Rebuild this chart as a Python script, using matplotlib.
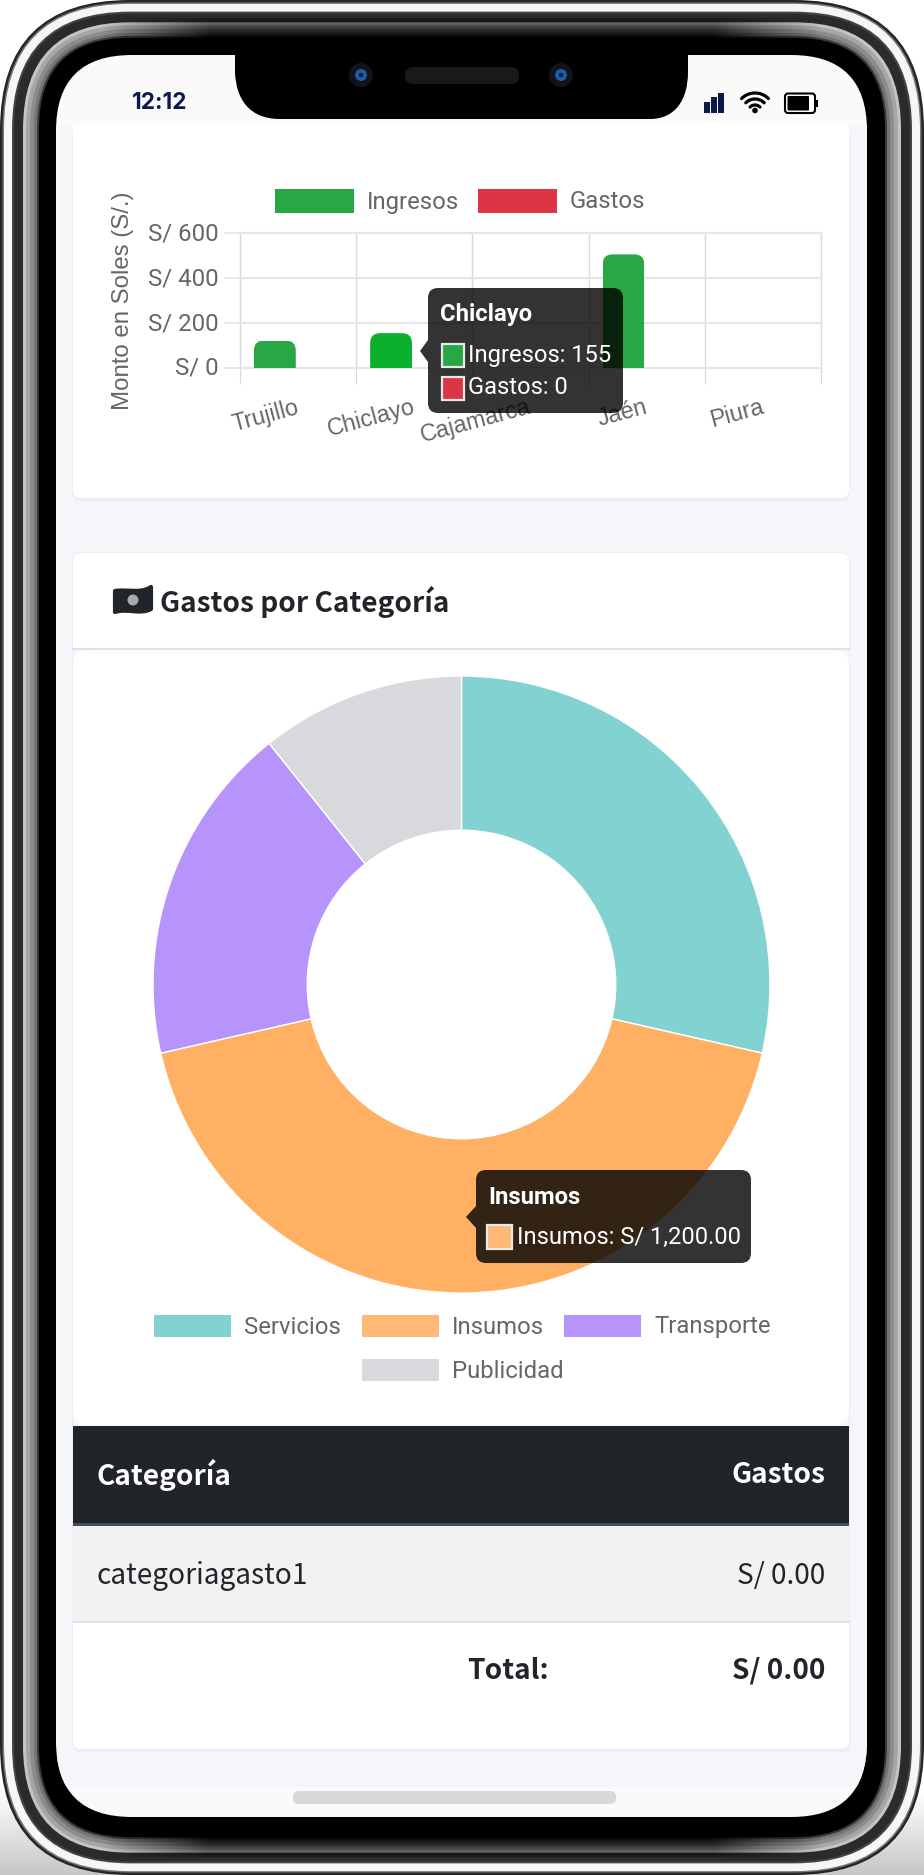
"""Phone mockup with a bar chart, a doughnut chart and a small table."""

import matplotlib
matplotlib.use("Agg")
import matplotlib.pyplot as plt
from matplotlib.patches import Circle, FancyBboxPatch, PathPatch, Polygon, Rectangle
from matplotlib.path import Path
from matplotlib.transforms import ScaledTranslation
import numpy as np

W, H = 924, 1875

cities = ["Trujillo", "Chiclayo", "Cajamarca", "Jaén", "Piura"]
ingresos = [122, 155, 0, 505, 0]
gastos = [0, 0, 0, 0, 0]
ingresos_colors = ["#28a745", "#0ab02e", "#28a745", "#28a745", "#28a745"]
y_ticks = [0, 200, 400, 600]

categories = ["Servicios", "Insumos", "Transporte", "Publicidad"]
amounts = [800, 1200, 500, 300]
slice_colors = ["#82d2d2", "#ffb063", "#b794fb", "#d8d9dc"]
legend_colors = ["#82d2d2", "#ffb876", "#b794fb", "#d8d9dc"]

GREEN = "#28a745"
RED = "#dc3545"
GRAY_TEXT = "#666666"
DARK = "#212529"
SOURCE = "Noto Sans CJK SC"

plt.rcParams["font.family"] = ["Roboto", "DejaVu Sans"]


def px_axes(fig, x0, y0, x1, y1, zorder):
    """Axes placed by pixel box, measured from the top left of the figure."""
    axis = fig.add_axes([x0 / W, 1 - y1 / H, (x1 - x0) / W, (y1 - y0) / H])
    axis.set_zorder(zorder)
    return axis


def rounded(axis, x0, y0, x1, y1, radius, **kwargs):
    patch = FancyBboxPatch(
        (x0, y0), x1 - x0, y1 - y0,
        boxstyle=f"round,pad=0,rounding_size={radius}",
        linewidth=kwargs.pop("linewidth", 0), **kwargs,
    )
    axis.add_patch(patch)
    return patch


def dark_strip(axis, y_top, y_bottom, start, stop):
    """Darken the gray band along the top or bottom edge, fading toward the corners."""
    rows = np.linspace(start, stop, 24).reshape(-1, 1)
    columns = np.clip(np.minimum(np.arange(200), np.arange(200)[::-1]) / 30, 0, 1).reshape(1, -1)
    rgba = np.zeros((24, 200, 4))
    rgba[..., 3] = rows * columns
    axis.imshow(rgba, aspect="auto", extent=(100, W - 100, y_bottom, y_top), zorder=1.1)


def draw_frame(axis):
    """Concentric metal bands of the phone body."""
    shade = np.linspace(0, 1, 80).reshape(-1, 1)
    axis.imshow(shade, cmap="gray_r", vmin=0, vmax=4.5, aspect="auto",
                extent=(0, W, 1875, 1790), zorder=0)
    bands = [
        (0, "#262626"), (2.5, "#777777"), (4, "#f6f6f6"), (12, "#444444"),
        (14, "#2b2b2b"), (23, "#c4c4c4"), (26, "#a6a6a6"), (30, "#8c8c8c"),
        (34, "#747474"), (37, "#3a3a3a"), (39, "#000000"),
    ]
    for inset, color in bands:
        rounded(axis, inset, inset * 0.97, W - inset, H - inset * 0.97,
                130 - inset, facecolor=color, zorder=1)
    dark_strip(axis, 18, 39, 0.35, 0.95)
    dark_strip(axis, H - 18, H - 39, 0.35, 0.95)
    screen = rounded(axis, 56, 55, 867, 1817, 76, facecolor="#fafafb", zorder=1.2)
    backdrop = Rectangle((57, 124), 810, 1663, facecolor="#f4f6f9", zorder=1.3)
    axis.add_patch(backdrop)
    backdrop.set_clip_path(screen)
    axis.set_xlim(0, W)
    axis.set_ylim(H, 0)


def draw_cards(axis):
    """White cards behind the two charts and the table."""
    axis.add_patch(Rectangle((73, 124), 776, 40, facecolor="white", zorder=2.1))
    rounded(axis, 72, 132, 850, 501, 9, facecolor="#eceef2", zorder=2)
    rounded(axis, 73, 132, 849, 498, 8, facecolor="white", zorder=2.1)
    rounded(axis, 72, 552, 850, 1752, 9, facecolor="#eceef2", zorder=2)
    rounded(axis, 73, 553, 849, 1749, 8, facecolor="white", zorder=2.1)

    axis.add_patch(Rectangle((73, 649), 776, 777, facecolor="#f6f7f9", zorder=2.2))
    axis.plot([73, 849], [649, 649], color="#dee2e6", lw=1.5, zorder=2.3)
    rounded(axis, 73, 650, 849, 1425, 16, facecolor="white", zorder=2.3)

    # money icon next to the title
    verts = [(115, 591), (128, 589), (140, 594), (151, 587), (151, 609),
             (140, 615), (128, 608), (115, 612), (115, 591)]
    codes = [Path.MOVETO, Path.CURVE4, Path.CURVE4, Path.CURVE4, Path.LINETO,
             Path.CURVE4, Path.CURVE4, Path.CURVE4, Path.CLOSEPOLY]
    axis.add_patch(PathPatch(Path(verts, codes), facecolor=DARK, edgecolor=DARK,
                             lw=3, joinstyle="round", zorder=3))
    axis.add_patch(Circle((133, 600), 5.5, facecolor="#a8a9ab", zorder=3.1))
    axis.text(160, 602, "Gastos por Categoría", family=SOURCE, weight="bold",
              fontsize=20.2, color=DARK, va="center", zorder=3)

    # table
    axis.add_patch(Rectangle((73, 1426), 776, 97, facecolor=DARK, zorder=3))
    axis.add_patch(Rectangle((73, 1523), 776, 3, facecolor="#454d55", zorder=3))
    axis.add_patch(Rectangle((73, 1526), 776, 95, facecolor="#f2f2f2", zorder=3))
    axis.plot([73, 849], [1621.5, 1621.5], color="#dee2e6", lw=1.5, zorder=3)
    cell = dict(family=SOURCE, fontsize=20.2, va="center", zorder=4)
    axis.text(97, 1475, "Categoría", color="white", weight="bold", ha="left", **cell)
    axis.text(825, 1475, "Gastos", color="white", weight="bold", ha="right", **cell)
    axis.text(97, 1576, "categoriagasto1", color=DARK, ha="left", **cell)
    axis.text(825, 1576, "S/ 0.00", color=DARK, ha="right", **cell)
    axis.text(549, 1671, "Total:", color=DARK, weight="bold", ha="right", **cell)
    axis.text(825, 1671, "S/ 0.00", color=DARK, weight="bold", ha="right", **cell)

    rounded(axis, 293, 1791, 616, 1804, 6, facecolor="#d8d8d8", zorder=3)


def draw_legends(axis):
    """Legend swatches and labels of both charts."""
    font = dict(fontsize=17.2, color=GRAY_TEXT, va="center", zorder=3)
    entries = [
        (275, 189, GREEN, "Ingresos"),
        (478, 189, RED, "Gastos"),
    ]
    for x, y, color, label in entries:
        axis.add_patch(Rectangle((x, y), 79, 24, facecolor=color, zorder=3))
        axis.text(x + 92, y + 13, label, **font)
    spots = [(154, 1315), (362, 1315), (564, 1315), (362, 1359)]
    for (x, y), color, label in zip(spots, legend_colors, categories):
        axis.add_patch(Rectangle((x, y), 77, 22, facecolor=color, zorder=3))
        axis.text(x + 90, y + 12, label, **font)


def draw_bars(fig, axis):
    x = np.arange(len(cities))
    width = 0.36
    bars = axis.bar(x - 0.2, ingresos, width, color=ingresos_colors, zorder=2)
    axis.bar(x + 0.2, gastos, width, color=RED, zorder=2)

    # rounded top corners, 10 px wide in each direction
    rx, ry = 10 / 116.2, 10 / 135 * 600
    for bar, value in zip(bars, ingresos):
        if value == 0:
            continue
        x0, x1 = bar.get_x(), bar.get_x() + bar.get_width()
        verts = [(x0, 0), (x0, value - ry), (x0, value), (x0 + rx, value),
                 (x1 - rx, value), (x1, value), (x1, value - ry), (x1, 0), (x0, 0)]
        codes = [Path.MOVETO, Path.LINETO, Path.CURVE3, Path.CURVE3,
                 Path.LINETO, Path.CURVE3, Path.CURVE3, Path.LINETO, Path.CLOSEPOLY]
        bar.set_clip_path(Path(verts, codes), axis.transData)

    axis.set_xlim(-0.5, len(cities) - 0.5)
    axis.set_ylim(0, 600)
    axis.set_xticks(np.arange(len(cities) + 1) - 0.5)
    axis.set_xticklabels([])
    axis.set_xticks(x, cities, minor=True)
    axis.set_yticks(y_ticks, [f"S/ {v}" for v in y_ticks])
    axis.set_axisbelow(True)
    axis.grid(axis="x", color="#d8d8d8", lw=1, clip_on=False)
    axis.grid(axis="y", color="#e6e6e6", lw=1.6, clip_on=False)
    for spine in axis.spines.values():
        spine.set_visible(False)
    axis.tick_params(axis="x", which="major", length=11.5, width=0.8, color="#d8d8d8")
    axis.tick_params(axis="x", which="minor", length=0, pad=28, labelsize=16.8,
                     labelcolor=GRAY_TEXT)
    axis.tick_params(axis="y", length=11.5, width=1.2, color="#e6e6e6", pad=4,
                     labelsize=17.3, labelcolor=GRAY_TEXT)
    for label in axis.get_xticklabels(minor=True):
        label.set(rotation=15, ha="right", va="center", rotation_mode="anchor",
                  family=["Liberation Sans"])
    lift = ScaledTranslation(0, 2 / 100, fig.dpi_scale_trans)
    for label in axis.get_yticklabels():
        label.set_transform(label.get_transform() + lift)
    axis.set_ylabel("Monto en Soles (S/.)", family=["Liberation Sans"],
                    fontsize=17.3, color=GRAY_TEXT)
    axis.yaxis.set_label_coords(-0.182, 0.5)
    axis.patch.set_alpha(0)


def draw_doughnut(axis):
    axis.pie(amounts, startangle=90, counterclock=False, colors=slice_colors,
             radius=1, wedgeprops=dict(width=0.5, edgecolor="white", linewidth=1))
    axis.set_xlim(-1, 1)
    axis.set_ylim(-1, 1)
    axis.patch.set_alpha(0)


def draw_tooltip(axis, box, tip, title, title_y, rows):
    x0, y0, x1, y1 = box
    fill = (0, 0, 0, 0.8)
    rounded(axis, x0, y0, x1, y1, 10, facecolor=fill, zorder=5)
    axis.add_patch(Polygon([(x0, tip[1] - 11), tip, (x0, tip[1] + 11)],
                           facecolor=fill, linewidth=0, zorder=5))
    axis.text(x0 + 12, title_y, title, color="white", weight="bold", fontsize=17.2,
              va="center", zorder=6)
    for sx, sy, sw, sh, color, label in rows:
        axis.add_patch(Rectangle((sx, sy), sw, sh, facecolor=color, edgecolor="#e8e8e8",
                                 lw=1.6, zorder=6))
        axis.text(sx + sw + 5, sy + sh / 2, label, color="white", fontsize=17.1,
                  va="center", zorder=6)


def draw_status_bar(axis):
    """Notch, clock and the status icons."""
    verts = [(235, 50), (235, 72), (236, 100), (250, 119), (280, 119), (650, 119),
             (675, 119), (688, 100), (688, 72), (688, 50), (235, 50)]
    codes = [Path.MOVETO, Path.LINETO, Path.CURVE4, Path.CURVE4, Path.CURVE4, Path.LINETO,
             Path.CURVE4, Path.CURVE4, Path.CURVE4, Path.LINETO, Path.CLOSEPOLY]
    axis.add_patch(PathPatch(Path(verts, codes), facecolor="black", lw=0, zorder=5))
    rounded(axis, 405, 67, 519, 84, 8, facecolor="#191919", zorder=6)
    for cx in (361, 561):
        axis.add_patch(Circle((cx, 75), 12, facecolor="#111318", zorder=6))
        axis.add_patch(Circle((cx, 75), 6, facecolor="#1c5ea6", zorder=6))
        axis.add_patch(Circle((cx, 75), 2.2, facecolor="#0a1c38", zorder=6))

    axis.text(160, 103, "12:12", family=["Inter"], weight="bold", fontsize=16.2,
              color="#0c1a4a", ha="center", va="center", zorder=6)

    for x0, top in [(704, 102), (711, 97), (718, 93)]:
        axis.add_patch(Rectangle((x0, top), 6, 113 - top, facecolor="#0c1a4a", zorder=6))

    axis.add_patch(Circle((755, 110.5), 2.8, facecolor="black", zorder=6))
    angles = np.radians(np.linspace(-135, -45, 30))
    for r in (7, 13, 19):
        axis.plot(755 + r * np.cos(angles), 112 + r * np.sin(angles), color="black",
                  lw=2.3, solid_capstyle="round", zorder=6)

    rounded(axis, 785, 93.5, 815, 113, 3, facecolor="white", edgecolor="black",
            linewidth=1.5, zorder=6)
    rounded(axis, 787.5, 96, 809, 110.5, 1, facecolor="black", zorder=6)
    axis.add_patch(Rectangle((816, 100), 2, 7, facecolor="black", zorder=6))


fig = plt.figure(figsize=(W / 100, H / 100), dpi=100, facecolor="white")

back = px_axes(fig, 0, 0, W, H, 0)
draw_frame(back)
draw_cards(back)
draw_legends(back)
back.axis("off")

bar_axis = px_axes(fig, 240, 233, 821, 368, 1)
draw_bars(fig, bar_axis)

pie_axis = px_axes(fig, 153, 676, 770, 1293, 1)
draw_doughnut(pie_axis)

over = px_axes(fig, 0, 0, W, H, 2)
over.set_xlim(0, W)
over.set_ylim(H, 0)
over.axis("off")
draw_status_bar(over)
draw_tooltip(
    over, (428, 288, 623, 413), (420, 351), "Chiclayo", 315,
    [(441.5, 344, 22, 23, GREEN, f"Ingresos: {ingresos[1]}"),
     (441.5, 376.5, 22, 23, RED, f"Gastos: {gastos[1]}")],
)
draw_tooltip(
    over, (476, 1170, 751, 1263), (466, 1217), "Insumos", 1197,
    [(487, 1225, 25, 24, legend_colors[1], f"Insumos: S/ {amounts[1]:,.2f}")],
)

fig.savefig("out.png", dpi=100, facecolor="white")
plt.close(fig)
